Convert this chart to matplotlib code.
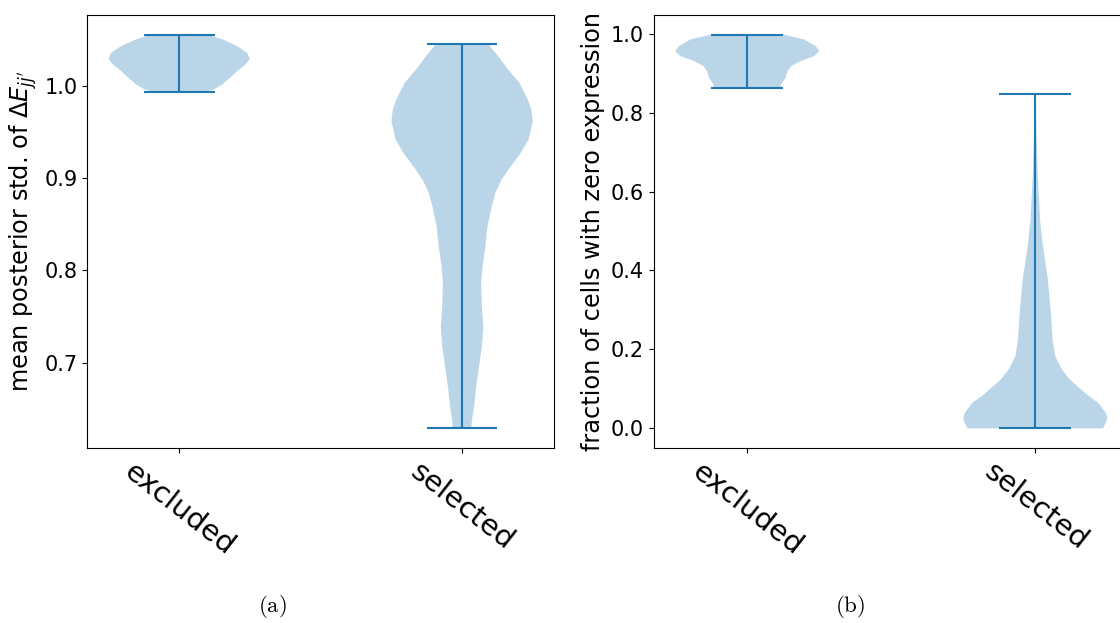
import numpy as np
import matplotlib
matplotlib.use("Agg")
import matplotlib.pyplot as plt

plt.rcParams["mathtext.fontset"] = "dejavusans"

categories = ["excluded", "selected"]

# Panel (a): mean posterior std. of Delta E_jj'
a_excl_y = [0.9939, 0.9964, 1.0018, 1.0091, 1.0163, 1.0236, 1.0297, 1.0363, 1.0435, 1.0508, 1.0558]
a_excl_w = [0.37, 0.49, 0.61, 0.72, 0.82, 0.94, 1.00, 0.96, 0.82, 0.61, 0.40]
a_excl_min, a_excl_max = 0.9939, 1.0558

a_sel_y = [0.6287, 0.6377, 0.6522, 0.6739, 0.6957, 0.7174, 0.7391, 0.7609, 0.7863, 0.8044,
           0.8261, 0.8479, 0.8696, 0.8841, 0.8986, 0.9131, 0.9276, 0.9421, 0.962, 0.9745,
           0.9855, 1.0037, 1.0181, 1.0326, 1.0457]
a_sel_w = [0.13, 0.14, 0.17, 0.20, 0.24, 0.28, 0.30, 0.28, 0.27, 0.29,
           0.33, 0.36, 0.42, 0.47, 0.56, 0.69, 0.83, 0.94, 1.00, 0.98,
           0.93, 0.81, 0.65, 0.51, 0.37]
a_sel_min, a_sel_max = 0.6287, 1.0457

# Panel (b): fraction of cells with zero expression
b_excl_y = [0.863, 0.8715, 0.888, 0.905, 0.918, 0.9306, 0.9432, 0.956, 0.9686, 0.9855, 0.9975]
b_excl_w = [0.46, 0.47, 0.53, 0.56, 0.61, 0.74, 0.93, 1.00, 0.95, 0.79, 0.51]
b_excl_min, b_excl_max = 0.863, 0.9975

b_sel_y = [0.0, 0.0136, 0.0263, 0.039, 0.0643, 0.0897, 0.1235, 0.1488, 0.1826, 0.2249,
           0.2925, 0.377, 0.4615, 0.5207, 0.6306, 0.7574, 0.8478]
b_sel_w = [0.94, 0.98, 1.00, 0.98, 0.875, 0.69, 0.48, 0.37, 0.276, 0.24,
           0.217, 0.175, 0.106, 0.07, 0.037, 0.015, 0.008]
b_sel_min, b_sel_max = 0.0, 0.8478

ylabels = [r"mean posterior std. of $\Delta E_{jj^{\prime}}$",
           "fraction of cells with zero expression"]
captions = ["(a)", "(b)"]


def stats(y, w, lo, hi):
    return dict(coords=np.array(y), vals=np.array(w), mean=np.nan,
                median=np.nan, min=lo, max=hi)


W, H = 1120, 623
fig = plt.figure(figsize=(W / 100, H / 100), dpi=100)

ax1 = fig.add_axes([87.3 / W, (H - 448) / H, (554 - 87.3) / W, 433 / H])
ax2 = fig.add_axes([653.7 / W, (H - 448) / H, 475.2 / W, 433 / H])

panels = [
    (ax1, [stats(a_excl_y, a_excl_w, a_excl_min, a_excl_max),
           stats(a_sel_y, a_sel_w, a_sel_min, a_sel_max)]),
    (ax2, [stats(b_excl_y, b_excl_w, b_excl_min, b_excl_max),
           stats(b_sel_y, b_sel_w, b_sel_min, b_sel_max)]),
]

for i, (ax, vp) in enumerate(panels):
    ax.violin(vp, positions=[1, 2], widths=0.5, showextrema=True)
    ax.set_xticks([1, 2])
    ax.set_xticklabels(categories, rotation=-38, fontsize=21)
    ax.tick_params(axis="y", labelsize=15)
    ax.set_ylabel(ylabels[i], fontsize=17.3, labelpad=4)

ax1.set_yticks([0.7, 0.8, 0.9, 1.0])
ax2.set_yticks([0.0, 0.2, 0.4, 0.6, 0.8, 1.0])

for cap, xc in zip(captions, [272, 850]):
    fig.text(xc / W, 1 - 607 / H, r"$\mathrm{" + cap + "}$", ha="center",
             va="center", fontsize=16.5, math_fontfamily="cm")

fig.savefig("out.png", dpi=100)
